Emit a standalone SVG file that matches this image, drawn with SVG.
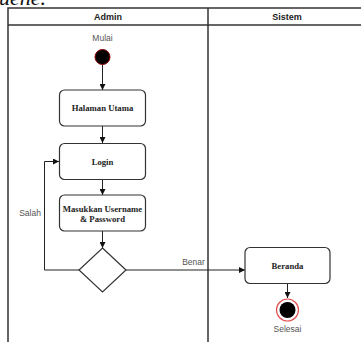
<svg xmlns="http://www.w3.org/2000/svg" width="361" height="342" viewBox="0 0 361 342">
<defs>
<marker id="ah" viewBox="0 0 10 10" refX="10" refY="5" markerWidth="6" markerHeight="6" markerUnits="userSpaceOnUse" orient="auto">
<path d="M0,0 L10,5 L0,10 Z" fill="#111"/>
</marker>
<style>
.frame{fill:none;stroke:#333;stroke-width:1.5}
.box{fill:#fff;stroke:#333;stroke-width:1.2}
.conn{fill:none;stroke:#222;stroke-width:1;marker-end:url(#ah)}
.line{fill:none;stroke:#222;stroke-width:1}
.hdr{font-family:"Liberation Sans",Arial,sans-serif;font-size:9px;font-weight:bold;fill:#222;text-anchor:middle}
.lbl{font-family:"Liberation Sans",Arial,sans-serif;font-size:8.5px;fill:#555;text-anchor:middle}
.act{font-family:"Liberation Serif","Times New Roman",serif;font-size:8.7px;font-weight:bold;fill:#222;text-anchor:middle}
</style>
</defs>
<rect width="361" height="342" fill="#fff"/>
<text x="-1" y="5" font-family="Liberation Serif,'Times New Roman',serif" font-style="italic" font-size="22" fill="#111">uene.</text>
<g id="pool">
<rect class="frame" x="8" y="8" width="360" height="345"/>
<line class="frame" x1="8" y1="25" x2="368" y2="25"/>
<line class="frame" x1="208" y1="8" x2="208" y2="353"/>
<text class="hdr" x="108" y="20">Admin</text>
<text class="hdr" x="287" y="20">Sistem</text>
</g>
<g id="connectors">
<line class="conn" x1="102.5" y1="65" x2="102.5" y2="90"/>
<line class="conn" x1="102.5" y1="126" x2="102.5" y2="143"/>
<line class="conn" x1="102.5" y1="179.5" x2="102.5" y2="195"/>
<line class="conn" x1="102.5" y1="231" x2="102.5" y2="248"/>
<polyline class="conn" points="79,270 44.5,270 44.5,161.5 59,161.5"/>
<line class="conn" x1="126" y1="270" x2="245" y2="270"/>
<line class="conn" x1="287.5" y1="283.5" x2="287.5" y2="298"/>
<text class="lbl" x="30" y="216">Salah</text>
<text class="lbl" x="193.5" y="265">Benar</text>
</g>
<g id="start">
<text class="lbl" x="102.5" y="41">Mulai</text>
<circle cx="102.5" cy="57" r="7.5" fill="#000" stroke="#8b0000" stroke-width="1"/>
</g>
<g id="halaman-utama">
<rect class="box" x="59.5" y="90" width="86" height="36" rx="5"/>
<text class="act" x="102.5" y="111">Halaman Utama</text>
</g>
<g id="login">
<rect class="box" x="59.5" y="143.5" width="86" height="36" rx="5"/>
<text class="act" x="102.5" y="164.5">Login</text>
</g>
<g id="masukkan">
<rect class="box" x="59.5" y="195" width="86" height="36" rx="5"/>
<text class="act" x="102.5" y="211.5">Masukkan Username</text>
<text class="act" x="102.5" y="221.5">&amp; Password</text>
</g>
<g id="decision">
<polygon class="box" points="102.5,248 126,270 102.5,292 79,270"/>
</g>
<g id="beranda">
<rect class="box" x="245" y="247.5" width="85" height="36" rx="5"/>
<text class="act" x="287.5" y="269">Beranda</text>
</g>
<g id="end">
<circle cx="287.5" cy="310" r="11" fill="#fff" stroke="#e05050" stroke-width="1.2"/>
<circle cx="287.5" cy="310" r="8" fill="#000"/>
<text class="lbl" x="287.5" y="332">Selesai</text>
</g>
</svg>
